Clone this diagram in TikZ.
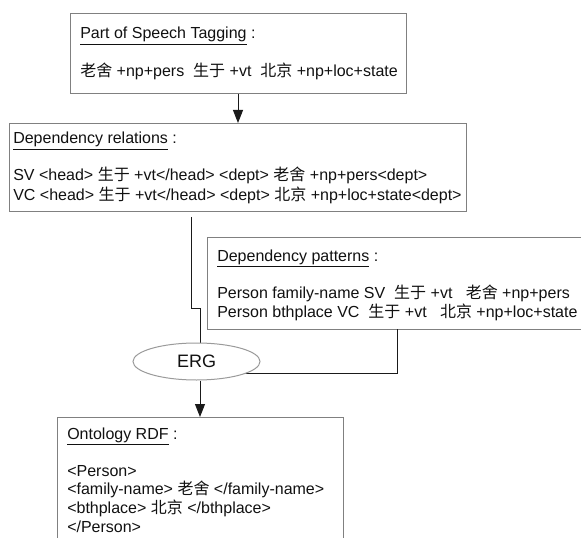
\documentclass[tikz,border=0pt]{standalone}
\usepackage{fontspec}
\setmainfont{Liberation Sans}
\newfontfamily\cjkfont{Noto Sans CJK SC}
\newcommand\zh[1]{{\cjkfont #1}}
\usetikzlibrary{arrows.meta,shapes.geometric}
\definecolor{boxgray}{HTML}{808080}
\definecolor{ellgray}{HTML}{9A9A9A}
\definecolor{linecol}{HTML}{1A1A1A}
\definecolor{textcol}{HTML}{111111}
\begin{document}
\begin{tikzpicture}[x=0.75pt,y=-0.75pt,
  box/.style={draw=boxgray, line width=0.75pt, anchor=north west, inner sep=0pt, fill=white},
  txt/.style={anchor=base west, inner sep=0pt, font=\fontsize{12}{14}\selectfont, text=textcol},
  conn/.style={draw=linecol, line width=0.75pt},
  arr/.style={conn, -{Triangle[length=9.75pt,width=7.5pt]}}]
\useasboundingbox (0,0) rectangle (581,538);
\clip (0,0) rectangle (581,538);
% boxes
\node[box, minimum width=252pt, minimum height=60pt] (pos) at (70,13) {};
\node[box, minimum width=342.75pt, minimum height=66pt] (rel) at (9,123) {};
\node[box, minimum width=300pt, minimum height=69pt] (pat) at (207,237) {};
\node[box, minimum width=214.5pt, minimum height=100pt] (rdf) at (57,417) {};
% box 1 text
\node[txt] (posT) at (80,39) {\underline{Part of Speech Tagging} :};
\node[txt] (posA) at (80,77) {\zh{老舍} +np+pers~ \zh{生于} +vt~ \zh{北京} +np+loc+state};
% box 2 text
\node[txt] (relT) at (13,144) {\underline{Dependency relations} :};
\node[txt] (relA) at (13,181) {SV <head> \zh{生于} +vt</head> <dept> \zh{老舍} +np+pers<dept>};
\node[txt] (relB) at (13,200) {VC <head> \zh{生于} +vt</head> <dept> \zh{北京} +np+loc+state<dept>};
% box 3 text
\node[txt] (patT) at (217,261) {\underline{Dependency patterns} :};
\node[txt] (patA) at (217,298) {Person family-name SV~ \zh{生于} +vt~~ \zh{老舍} +np+pers};
\node[txt] (patB) at (217,317) {Person bthplace VC~ \zh{生于} +vt~~ \zh{北京} +np+loc+state};
% box 4 text
\node[txt] (rdfT) at (67,439) {\underline{Ontology RDF} :};
\node[txt] (rdfA) at (67,476) {<Person>};
\node[txt] (rdfB) at (67,494) {<family-name> \zh{老舍} </family-name>};
\node[txt] (rdfC) at (67,513) {<bthplace> \zh{北京} </bthplace>};
\node[txt] (rdfD) at (67,532) {</Person>};
% connectors
\coordinate (relout) at (191,217);
\coordinate (patout) at (397,329);
\draw[arr] (pos.south -| 238,0) -- (rel.north -| 238,0);
\draw[conn] (relout) -- (191,308) -- (200,308) -- (200,350);
\draw[conn] (patout) -- (397,373) -- (230,373);
\node[ellipse, draw=ellgray, line width=0.75pt, fill=white, minimum width=95.25pt, minimum height=27.75pt, inner sep=0pt, text=textcol, font=\fontsize{13.5}{15}\selectfont] (erg) at (196.5,361.5) {ERG};
\draw[arr] (erg.south -| 200,0) -- (rdf.north -| 200,0);
\end{tikzpicture}
\end{document}
